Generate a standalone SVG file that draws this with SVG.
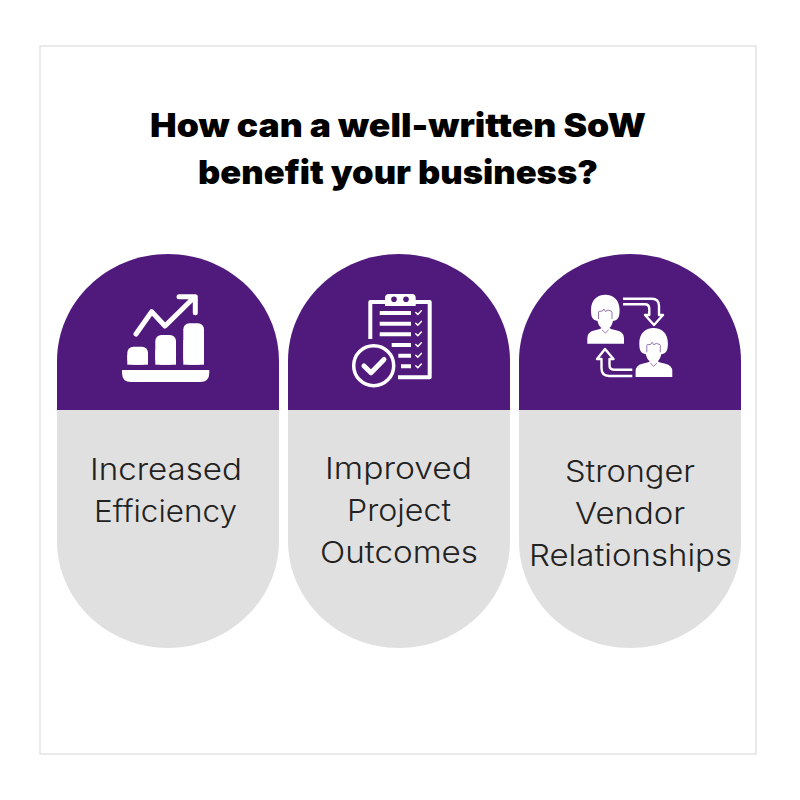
<svg xmlns="http://www.w3.org/2000/svg" width="800" height="800" viewBox="0 0 800 800">
<style>
.title{font-family:"Inter","Liberation Sans",sans-serif;font-weight:900;font-size:33px;fill:#000;text-anchor:middle}
.label{font-family:"Inter","Liberation Sans",sans-serif;font-weight:350;font-size:30px;fill:#222;text-anchor:middle}
.gray{fill:#e0e0e0}.purple{fill:#501a7c}
.w{fill:#fff}.ln{fill:none;stroke:#fff;stroke-linecap:round;stroke-linejoin:round}
.pl{fill:none;stroke:#501a7c;stroke-width:.8;stroke-opacity:.75}
</style>
<defs>
<path id="gray-base" class="gray" d="M0 410H222V541C222 600 172 648 111 648C50 648 0 600 0 541Z"/>
<path id="purple-cap" class="purple" d="M0 410V361C0 302 50 254 111 254C172 254 222 302 222 361V410Z"/>
<g id="person">
<path class="w" d="M591 310C591 300 597 294.700 605.300 294.700C613.600 294.700 619.600 300 619.600 310C619.600 316 618.500 319.500 615 320.500L613 321C612 325 610.500 327 609.500 328L611 329L617 330.500Q624 332 624 338V343.700H587.300V338Q587.300 332 594 330.500L600 329L601.500 328C600 327 598.500 325 597.500 321L596 320.500C592 319.500 591 316 591 310Z"/>
<path class="pl" d="M598.500 312V319M612 312V319"/>
<path class="pl" d="M598.500 311.500L602.500 311L603.800 309L605.500 311.500L608 310L612 311.500"/>
<path class="pl" d="M602 329.800L605.300 333L608.600 329.800"/>
</g>
<path id="chk" class="ln" stroke-width="1.500" d="M0 0L2 2L5.500 -1.800"/>
</defs>
<rect width="800" height="800" fill="#fff"/>
<rect x="40" y="46" width="716" height="708" fill="#fff" stroke="#e3e3e3" stroke-width="1.500"/>
<g id="heading">
<text class="title" x="398" y="137" textLength="496" lengthAdjust="spacingAndGlyphs">How can a well-written SoW</text>
<text class="title" x="398" y="184" textLength="400" lengthAdjust="spacingAndGlyphs">benefit your business?</text>
</g>
<g id="node-efficiency">
<use href="#gray-base" x="57"/>
<use href="#purple-cap" x="57"/>
<rect class="w" x="127.300" y="346.700" width="20.700" height="18" rx="6"/><rect class="w" x="127.300" y="355" width="20.700" height="9.700"/>
<rect class="w" x="155.300" y="335" width="20.700" height="29.700" rx="6"/><rect class="w" x="155.300" y="350" width="20.700" height="14.700"/>
<rect class="w" x="183.300" y="323.300" width="20.700" height="41.400" rx="6"/><rect class="w" x="183.300" y="340" width="20.700" height="24.700"/>
<path class="w" d="M122 370H209.300V373Q209.300 382 200 382H131Q122 382 122 373Z"/>
<path class="ln" stroke-width="5" d="M136 334L151.700 311.700L165 326L193 298.500M179 296.700H195.300V312.700"/>
<text class="label" x="166" y="480" textLength="152" lengthAdjust="spacingAndGlyphs">Increased</text>
<text class="label" x="165.500" y="522" textLength="143" lengthAdjust="spacingAndGlyphs">Efficiency</text>
</g>
<g id="node-outcomes">
<use href="#gray-base" x="288"/>
<use href="#purple-cap" x="288"/>
<path class="w" d="M385 306V298Q385 294 389 294H412Q415.700 294 415.700 298V306Z"/>
<circle class="purple" cx="394" cy="299.300" r="2.800"/><circle class="purple" cx="406" cy="299.300" r="2.800"/>
<path class="ln" stroke-width="4" style="stroke-linecap:butt" d="M385 302H370.300V339M415 302H429.700V377.300H398"/>
<path class="ln" stroke-width="4" style="stroke-linecap:butt" d="M379.700 313H411M379.700 323.700H411M379.700 334.300H411M391.700 345H411M398.300 355.700H411M401 366.300H411"/>
<use href="#chk" x="415.800" y="312.500"/><use href="#chk" x="415.800" y="323.200"/><use href="#chk" x="415.800" y="333.800"/><use href="#chk" x="415.800" y="344.500"/><use href="#chk" x="415.800" y="355.200"/><use href="#chk" x="415.800" y="365.800"/>
<circle cx="373.700" cy="365.700" r="20" fill="#501a7c" stroke="#fff" stroke-width="3.500"/>
<path class="ln" stroke-width="5" d="M364 366L371 372.700L384 359.500"/>
<text class="label" x="398.500" y="479" textLength="147" lengthAdjust="spacingAndGlyphs">Improved</text>
<text class="label" x="399" y="521" textLength="104" lengthAdjust="spacingAndGlyphs">Project</text>
<text class="label" x="399" y="563" textLength="158" lengthAdjust="spacingAndGlyphs">Outcomes</text>
</g>
<g id="node-relationships">
<use href="#gray-base" x="519"/>
<use href="#purple-cap" x="519"/>
<use href="#person"/>
<use href="#person" x="48.300" y="33.300"/>
<path class="ln" stroke-width="2.400" style="stroke-linecap:butt" d="M623 298.700H652Q659 298.700 659 306V315H663L654 325L645 315H649.300V309Q649.300 304.300 645 304.300H623"/>
<path class="ln" stroke-width="2.400" style="stroke-linecap:butt" d="M632.300 369.700H614Q609.500 369.700 609.500 365V359H613.500L605 349L597 359H601.500V368Q601.500 376 609 376H632.300"/>
<text class="label" x="630" y="482" textLength="130" lengthAdjust="spacingAndGlyphs">Stronger</text>
<text class="label" x="630" y="524" textLength="110" lengthAdjust="spacingAndGlyphs">Vendor</text>
<text class="label" x="630.500" y="566" textLength="203" lengthAdjust="spacingAndGlyphs">Relationships</text>
</g>
<g id="connectors"/>
</svg>
